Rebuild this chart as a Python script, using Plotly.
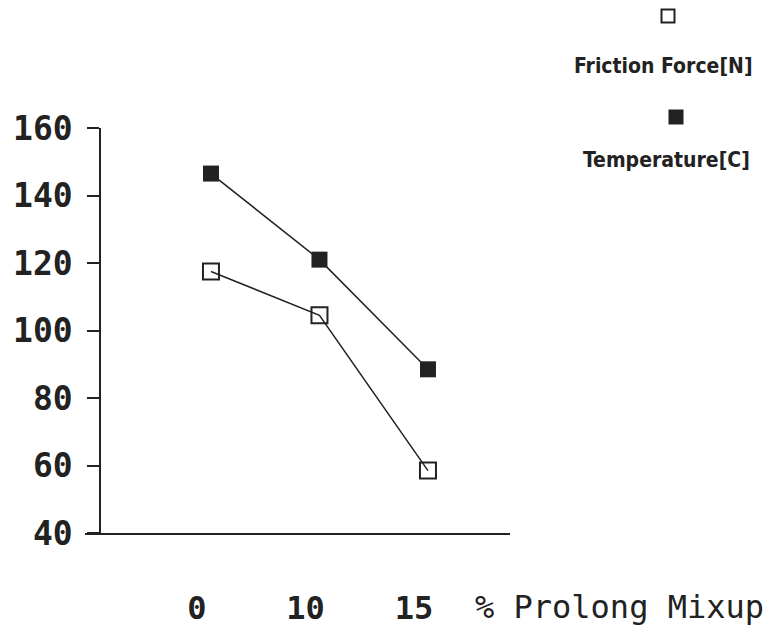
import plotly.graph_objects as go

x_pos = [0, 1, 2]
x_labels = ["0", "10", "15"]
friction = [117.5, 104.5, 58.5]
temperature = [146.5, 121, 88.5]
y_ticks = [40, 60, 80, 100, 120, 140, 160]
y_ticktext = ["40", "60", "80", "100", "120", "140", "160"]

fig = go.Figure()
fig.add_trace(go.Scatter(
    x=x_pos, y=friction, mode="lines+markers", name="Friction Force[N]",
    line=dict(color="#222", width=1.5),
    marker=dict(symbol="square-open", size=16, color="#222", line=dict(width=2)),
))
fig.add_trace(go.Scatter(
    x=x_pos, y=temperature, mode="lines+markers", name="Temperature[C]",
    line=dict(color="#222", width=1.5),
    marker=dict(symbol="square", size=16, color="#222"),
))

OFF = 8  # page body margin
W, H = 763, 619
L, T = 85 - OFF, 128 - OFF
B = H - (533 - OFF)
R = W - (510 - OFF)
plot_w = W - L - R
plot_h = H - T - B


def px(sx):
    return (sx - OFF - L) / plot_w


def py(sy):
    return (H - B - (sy - OFF)) / plot_h


fig.update_layout(
    width=W, height=H,
    margin=dict(l=L, r=R, t=T, b=B, autoexpand=False),
    paper_bgcolor="white", plot_bgcolor="white",
    showlegend=False,
    xaxis=dict(
        range=[-1.161, 2.756], tickvals=x_pos, ticktext=x_labels,
        showgrid=False, zeroline=False, showline=True, linecolor="#222", linewidth=1.5,
        ticks="", ticklabelshift=-14, ticklabelstandoff=46, automargin=False,
        tickfont=dict(family="DejaVu Sans Mono", size=32, color="#222", weight="bold"),
    ),
    yaxis=dict(
        range=[40, 160], tickvals=y_ticks, ticktext=y_ticktext,
        anchor="free", position=15 / plot_w, automargin=False,
        showgrid=False, zeroline=False, showline=True, linecolor="#222", linewidth=1.5,
        ticks="outside", ticklen=12, tickcolor="#222", tickwidth=1.5,
        ticklabelstandoff=8,
        tickfont=dict(family="DejaVu Sans Mono", size=33, color="#222", weight="bold"),
    ),
)

fig.add_annotation(
    x=px(473), y=py(607), xref="paper", yref="paper", text="% Prolong Mixup", showarrow=False,
    xanchor="left", yanchor="middle",
    font=dict(family="DejaVu Sans Mono", size=32, color="#222"),
)

# manual legend: symbols as shapes, labels as annotations
def legend_square(cx, cy, filled):
    half = 6.5
    fig.add_shape(
        type="rect", xref="paper", yref="paper",
        x0=px(cx - half), x1=px(cx + half), y0=py(cy + half), y1=py(cy - half),
        line=dict(color="#222", width=2),
        fillcolor="#222" if filled else "white",
    )


legend_square(668, 16, False)
legend_square(676, 117, True)
fig.add_annotation(x=px(663), y=py(66), xref="paper", yref="paper", xanchor="center", yanchor="middle",
                   text="Friction Force[N]", showarrow=False,
                   font=dict(size=21, color="#222", family="DejaVu Sans Condensed", weight="bold"))
fig.add_annotation(x=px(666), y=py(160), xref="paper", yref="paper", xanchor="center", yanchor="middle",
                   text="Temperature[C]", showarrow=False,
                   font=dict(size=21, color="#222", family="DejaVu Sans Condensed", weight="bold"))

fig.write_html("out.html")
